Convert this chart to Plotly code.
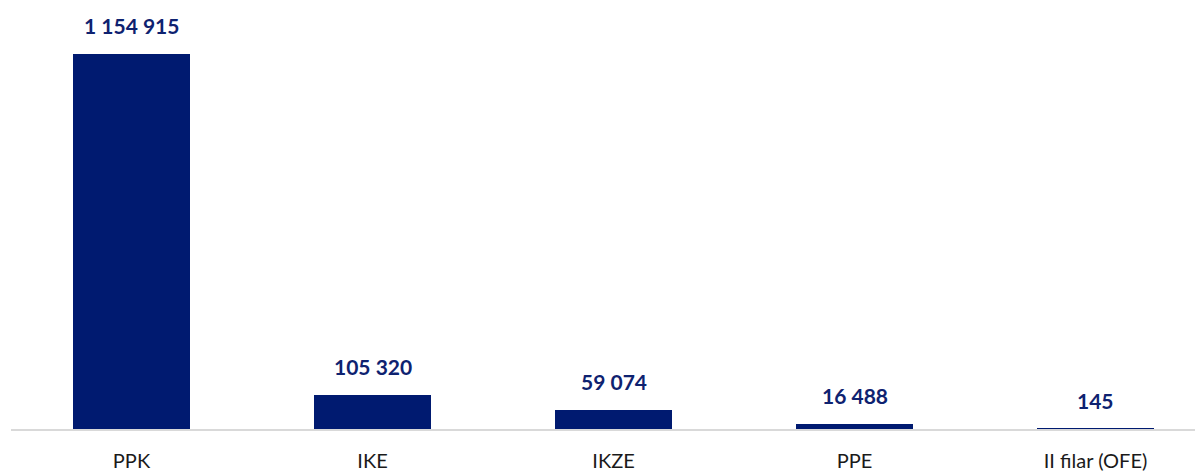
import plotly.graph_objects as go

categories = ["PPK", "IKE", "IKZE", "PPE", "II filar (OFE)"]
values = [1154915, 105320, 59074, 16488, 145]

bar_color = "#001A70"
label_color = "#0E2270"

def fmt(v):
    return f"{v:,}".replace(",", " ")

fig = go.Figure()
fig.add_trace(go.Bar(
    x=list(range(len(categories))),
    y=values,
    width=0.486,
    marker=dict(color=bar_color, line=dict(width=0)),
    hoverinfo="skip",
))

for i, v in enumerate(values):
    fig.add_annotation(
        x=i, y=v, text=f"<b>{fmt(v)}</b>",
        showarrow=False, yanchor="bottom", yshift=14,
        font=dict(family="Lato", size=21, color=label_color),
    )

fig.update_layout(
    width=1195, height=463,
    margin=dict(l=3, r=0, t=12, b=42),
    paper_bgcolor="white", plot_bgcolor="white",
    showlegend=False,
    bargap=0,
    xaxis=dict(
        range=[-0.5, 4.446],
        tickmode="array",
        tickvals=list(range(len(categories))),
        ticktext=categories,
        showgrid=False, zeroline=False,
        showline=True, linecolor="#D9D9D9", linewidth=2,
        ticks="", ticklabelstandoff=13,
        tickfont=dict(family="Lato", size=20, color="#1A1A1A"),
        fixedrange=True,
        automargin=False,
    ),
    yaxis=dict(
        range=[0, 1258000],
        visible=False,
        showgrid=False, zeroline=False,
        fixedrange=True,
    ),
)

fig.write_html("out.html")
